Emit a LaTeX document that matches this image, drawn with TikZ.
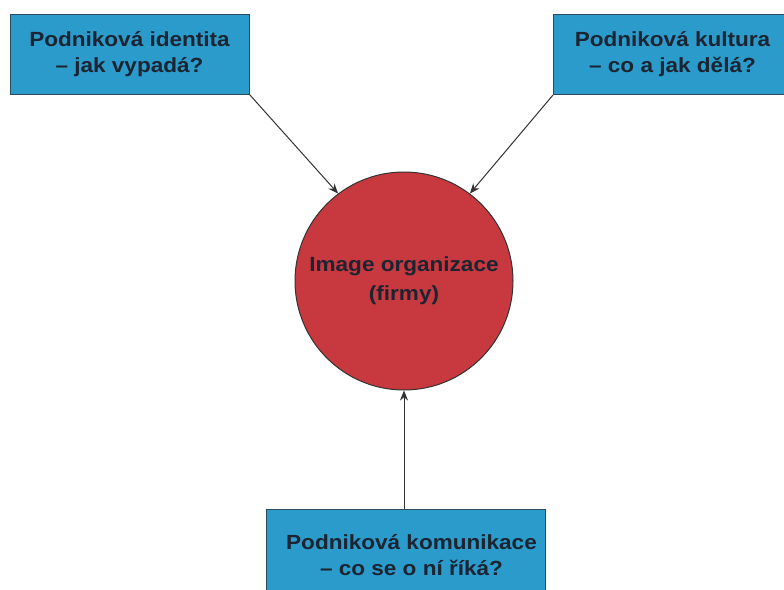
\documentclass[tikz,border=0pt]{standalone}
\usepackage{fontspec}
\setmainfont{Liberation Sans}[FakeStretch=1.1]
\usetikzlibrary{arrows.meta}
\definecolor{boxblue}{HTML}{2A9BCB}
\definecolor{boxline}{HTML}{2B4A5C}
\definecolor{circred}{HTML}{C8383F}
\definecolor{txtdark}{HTML}{1B2430}
\begin{document}
\begin{tikzpicture}[x=1pt,y=-1pt,
  bluebox/.style={draw=boxline, line width=1pt, fill=boxblue, rectangle, inner sep=0pt,
    text=txtdark, font=\fontsize{20.5}{26}\selectfont\bfseries, align=center},
  conn/.style={draw=black!80, line width=1pt, -{Stealth[length=10pt,width=8pt]}}]
\useasboundingbox (0,0) rectangle (784,589);
\node[bluebox, minimum width=239pt, minimum height=80pt] (ident) at (129.5,54) {Podniková identita\\– jak vypadá?};
\node[bluebox, minimum width=238pt, minimum height=80pt, anchor=north west] (kult) at (553,14) {Podniková kultura\\– co a jak dělá?};
\node[bluebox, minimum width=279pt, minimum height=92pt, anchor=north west] (kom) at (266,509) {\hspace*{11pt}Podniková komunikace\\\hspace*{11pt}– co se o ní říká?};
\node[circle, draw=black!80, line width=1pt, fill=circred, minimum size=218pt, inner sep=0pt,
  text=txtdark, font=\fontsize{20.5}{29}\selectfont\bfseries, align=center] (img) at (404,281) {Image organizace\\(firmy)};
\draw[conn] (ident.south east) -- (img.127);
\draw[conn] (kult.south west) -- (img.53);
\draw[conn] (kom.north -| img.south) -- (img.south);
\end{tikzpicture}
\end{document}
